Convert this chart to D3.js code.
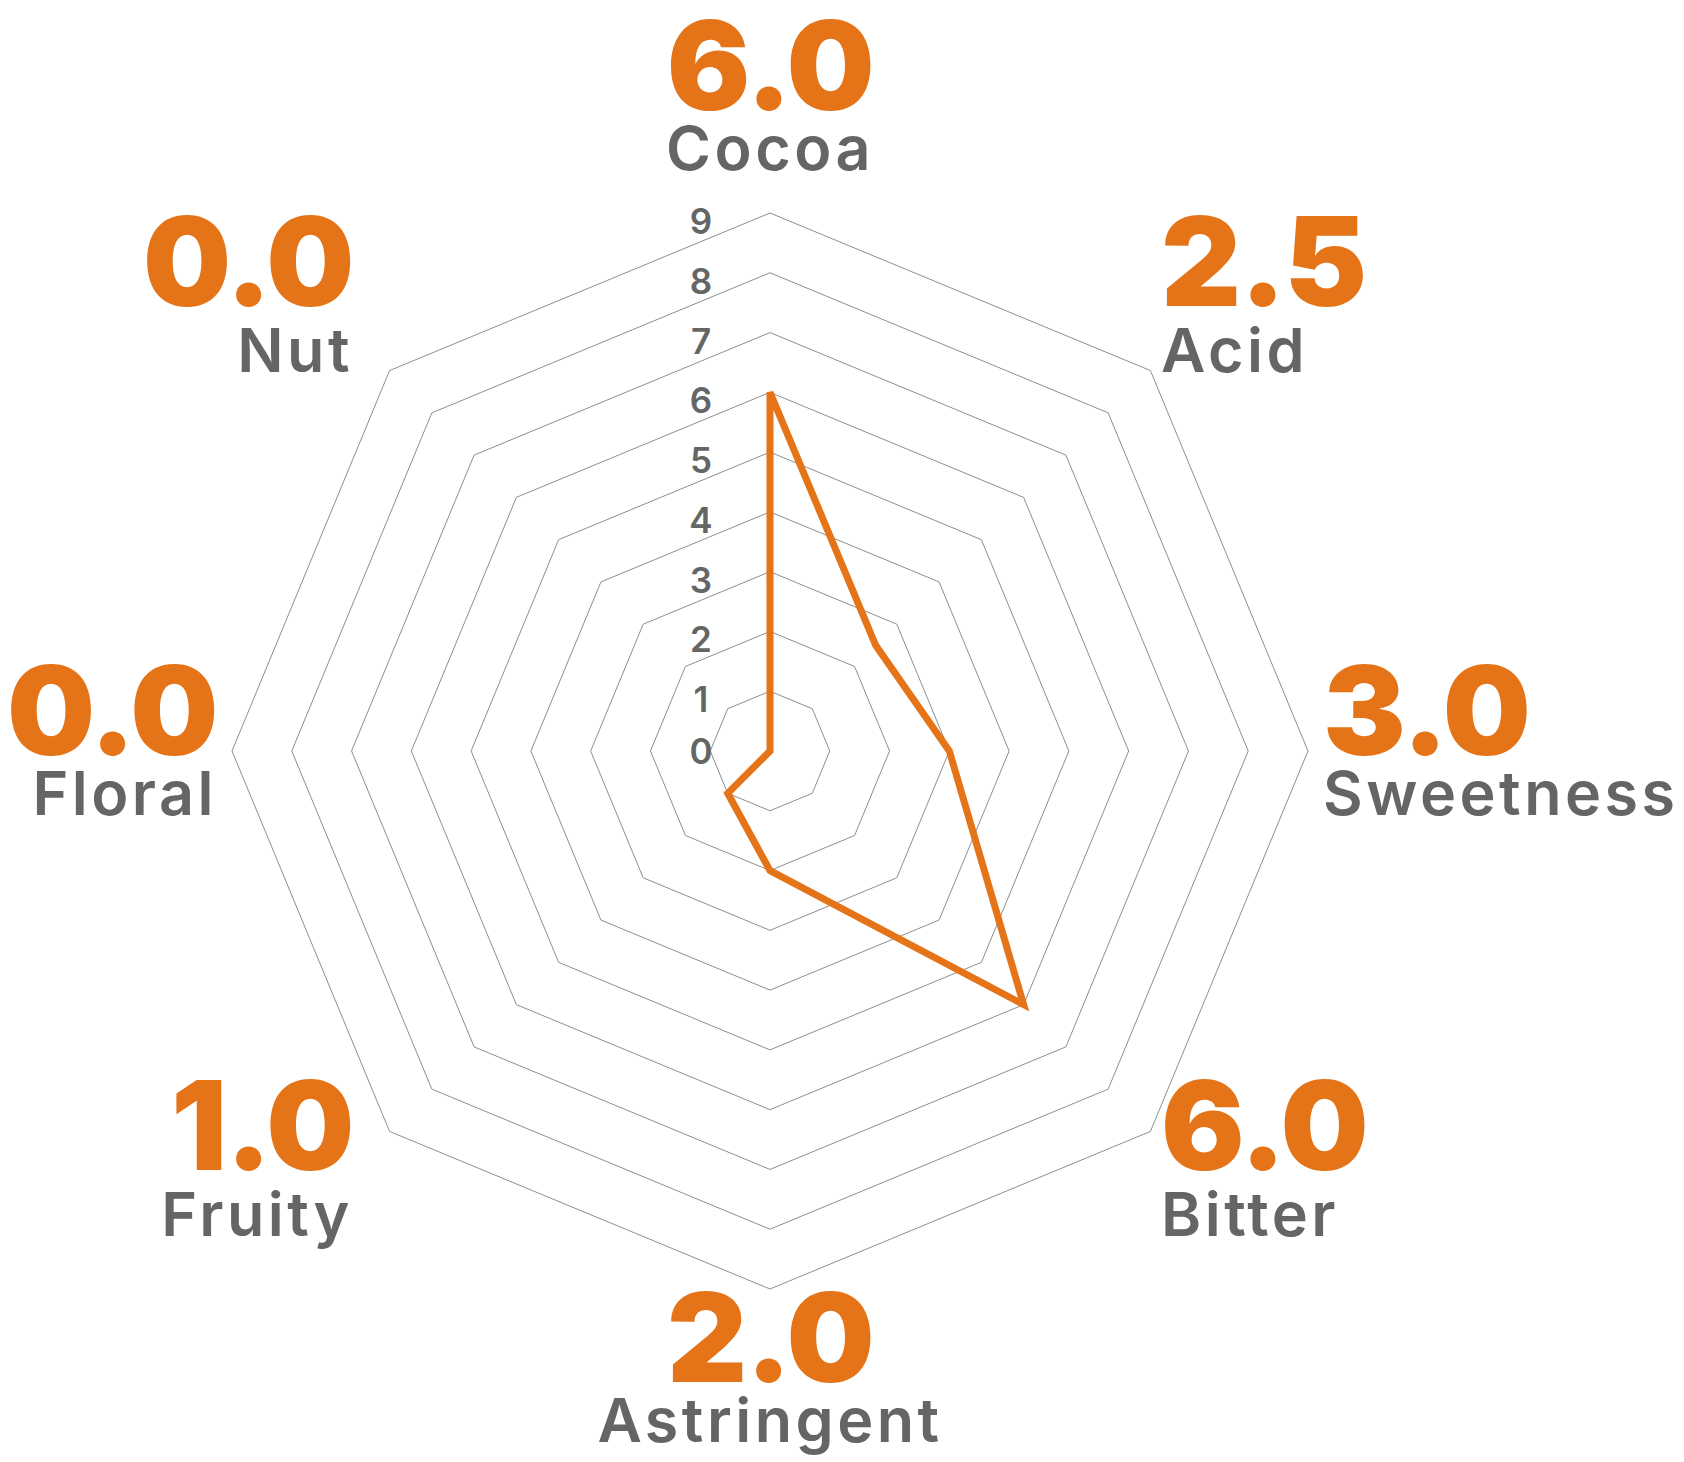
<!DOCTYPE html>
<html>
<head>
<meta charset="utf-8">
<script src="https://cdn.jsdelivr.net/npm/d3@7"></script>
<style>
  html, body { margin: 0; padding: 0; background: #ffffff; }
  svg { display: block; }
</style>
</head>
<body>
<svg id="chart" width="1684" height="1462"></svg>
<script>
// ---- data ----
const categories = ["Cocoa", "Acid", "Sweetness", "Bitter", "Astringent", "Fruity", "Floral", "Nut"];
const values = [6.0, 2.5, 3.0, 6.0, 2.0, 1.0, 0.0, 0.0];
const tickValues = [0, 1, 2, 3, 4, 5, 6, 7, 8, 9];

// ---- layout ----
const cx = 770, cy = 751;
const outerR = 538;
const orange = "#e57317";
const grey = "#646665";
const labelFont = "Inter, 'Open Sans', sans-serif";

const svg = d3.select("#chart");
const g = svg.append("g").attr("transform", `translate(${cx},${cy})`);

const r = d3.scaleLinear().domain([0, d3.max(tickValues)]).range([0, outerR]);
const angle = d3.scaleLinear().domain([0, categories.length]).range([0, 2 * Math.PI]);

const radial = d3.lineRadial()
  .angle((d, i) => angle(i))
  .radius(d => r(d))
  .curve(d3.curveLinearClosed);

// grid octagons
g.append("g").selectAll("path")
  .data(tickValues.filter(t => t > 0))
  .join("path")
  .attr("d", t => radial(categories.map(() => t)))
  .attr("fill", "none")
  .attr("stroke", "#8e8e8e")
  .attr("stroke-width", 1);

// tick labels
g.append("g").selectAll("text")
  .data(tickValues)
  .join("text")
  .attr("x", -69)
  .attr("y", t => -r(t) + Math.min(t, 1) * 8)
  .attr("text-anchor", "middle")
  .attr("dominant-baseline", "central")
  .attr("font-family", labelFont)
  .attr("font-weight", 600)
  .attr("font-size", 35)
  .attr("fill", grey)
  .text(t => t);

// data polygon
g.append("path")
  .attr("d", radial(values))
  .attr("fill", "none")
  .attr("stroke", orange)
  .attr("stroke-width", 7)
  .attr("stroke-linejoin", "miter");

// category labels + values
const labelR = 553;
svg.append("g").selectAll("g")
  .data(categories)
  .join("g")
  .each(function (name, i) {
    const a = angle(i);
    const s = Math.sin(a), c = Math.cos(a);
    const anchor = s > 0.01 ? "start" : (s < -0.01 ? "end" : "middle");
    const nudge = s < -0.01 ? -52 * c * c : 0;
    const x = cx + (Math.abs(s) < 0.01 ? 0 : labelR * s + nudge);
    const yLabel = cy - outerR * c + 55 - 60 * c - 38 * c * c * c
      + 9 * s * s * s * s + 25 * Math.min(c, 0) * s * s;
    const yValue = yLabel - (60 + 12 * Math.abs(s * c));
    const sel = d3.select(this);
    sel.append("text")
      .attr("x", x).attr("y", yValue)
      .attr("text-anchor", anchor)
      .attr("font-family", labelFont)
      .attr("font-weight", 900)
      .attr("font-size", 124)
      .attr("letter-spacing", -1.5)
      .attr("fill", orange)
      .text(values[i].toFixed(1));
    sel.append("text")
      .attr("x", x).attr("y", yLabel)
      .attr("text-anchor", anchor)
      .attr("font-family", labelFont)
      .attr("font-weight", 600)
      .attr("font-size", 61)
      .attr("letter-spacing", 3.5)
      .attr("fill", grey)
      .text(name);
  });
</script>
</body>
</html>
